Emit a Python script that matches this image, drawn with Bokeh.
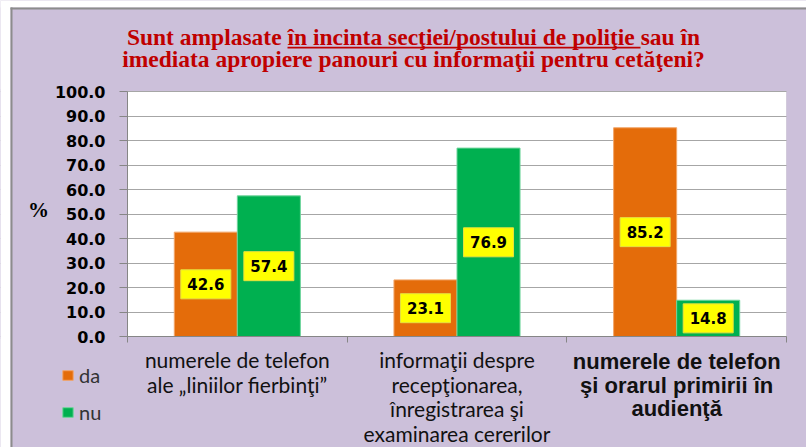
from bokeh.plotting import figure
from bokeh.models import (Range1d, FixedTicker, NumeralTickFormatter,
                          ColumnDataSource, LabelSet, Label, BoxAnnotation)
from bokeh.core.properties import value
from bokeh.embed import file_html
from bokeh.resources import INLINE

# ---- data ----
categories = [
    "numerele de telefon\nale \u201eliniilor fierbin\u0163i\u201d",
    "informa\u0163ii despre\nrecep\u0163ionarea,\n\u00eenregistrarea \u015fi\nexaminarea cererilor",
    "numerele de telefon\n\u015fi orarul primirii \u00een\naudien\u0163\u0103",
]
series_names = ["da", "nu"]
da = [42.6, 23.1, 85.2]
nu = [57.4, 76.9, 14.8]
y_ticks = [0, 10, 20, 30, 40, 50, 60, 70, 80, 90, 100]
title_line1 = "Sunt amplasate \u00een incinta sec\u0163iei/postului de poli\u0163ie sau \u00een"
title_line2 = "imediata apropiere panouri cu informa\u0163ii pentru cet\u0103\u0163eni?"
y_label = "%"

ORANGE = "#E46C0A"
GREEN = "#00B050"
LAVENDER = "#CCC0DA"
W, H = 806, 447
PL, PR, PT, PB = 127, 786, 91, 336   # plot area in canvas pixels

n = len(categories)
centers = [i + 0.5 for i in range(n)]
bw = 0.287
off = bw / 2

src = ColumnDataSource(dict(
    xc=centers, cat=categories, da=da, nu=nu,
    da_x=[c - off for c in centers], nu_x=[c + off for c in centers],
    da_mid=[v / 2 for v in da], nu_mid=[v / 2 for v in nu],
    da_lbl=[f"{v:.1f}" for v in da], nu_lbl=[f"{v:.1f}" for v in nu],
))

px_x = (PR - PL) / n
px_y = (PB - PT) / 100
p = figure(width=W, height=H,
           x_range=Range1d(-PL / px_x, n + (W - PR) / px_x),
           y_range=Range1d(-(H - PB) / px_y, 100 + PT / px_y),
           output_backend="svg", toolbar_location=None,
           min_border=0, min_border_left=0, min_border_right=0, min_border_top=0, min_border_bottom=0,
           background_fill_color=LAVENDER, border_fill_color=LAVENDER)
p.outline_line_color = None

# white plot area (below grid lines)
p.add_layout(BoxAnnotation(left=0, right=n, bottom=0, top=100, fill_color="white", fill_alpha=1,
                           line_color="#b8b8b8", line_width=1, level="image"))

# y axis at the plot-area edge
yax = p.yaxis[0]
yax.fixed_location = 0
yax.bounds = (0, 100)
yax.ticker = FixedTicker(ticks=y_ticks)
yax.formatter = NumeralTickFormatter(format="0.0")
yax.major_label_text_font = "DejaVu Sans"
yax.major_label_text_font_style = "bold"
yax.major_label_text_font_size = "16px"
yax.major_label_text_color = "black"
yax.major_tick_out = 8
yax.major_tick_in = 0
yax.minor_tick_line_color = None
yax.major_label_standoff = 14
yax.axis_line_color = "#868686"
yax.major_tick_line_color = "#868686"
p.ygrid.grid_line_color = "#a6a6a6"
p.xgrid.visible = False

# x axis: category boundaries
xax = p.xaxis[0]
xax.fixed_location = 0
xax.bounds = (0, n)
xax.ticker = FixedTicker(ticks=list(range(n + 1)))
xax.major_label_text_color = None
xax.major_tick_out = 6
xax.major_tick_in = 0
xax.minor_tick_line_color = None
xax.axis_line_color = "#868686"
xax.major_tick_line_color = "#868686"

# hide grid lines outside the plot area (drawn after the grid)
p.add_layout(BoxAnnotation(right=0, bottom=-1, top=101,
                           fill_color=LAVENDER, fill_alpha=1, line_color=None, level="underlay"))
p.add_layout(BoxAnnotation(left=n, bottom=-1, top=101, fill_color=LAVENDER, fill_alpha=1,
                           line_color=None, level="underlay"))

# white page outside the chart's border, and the border itself (left and top edges)
p.add_layout(BoxAnnotation(right=10, right_units="screen", fill_color="white", fill_alpha=1,
                           line_color=None, level="underlay"))
p.add_layout(BoxAnnotation(bottom=H - 7, bottom_units="screen", fill_color="white", fill_alpha=1,
                           line_color=None, level="underlay"))
p.add_layout(BoxAnnotation(left=10, right=12, top=H - 7, left_units="screen", right_units="screen",
                           top_units="screen", fill_color="#8c8c8c", fill_alpha=1, line_color=None,
                           level="underlay"))
p.add_layout(BoxAnnotation(left=10, bottom=H - 9, top=H - 7, left_units="screen",
                           bottom_units="screen", top_units="screen",
                           fill_color="#8c8c8c", fill_alpha=1, line_color=None, level="underlay"))

p.vbar(x="da_x", top="da", width=bw, source=src,
       fill_color=ORANGE, line_color="#F2A66A", legend_label=series_names[0])
p.vbar(x="nu_x", top="nu", width=bw, source=src,
       fill_color=GREEN, line_color="#6FD49C", legend_label=series_names[1])

for key in ("da", "nu"):
    p.rect(x=f"{key}_x", y=f"{key}_mid", width=50, height=29,
           width_units="screen", height_units="screen", source=src,
           fill_color="#FFFF00", line_color="#E6E040")
    p.text(x=f"{key}_x", y=f"{key}_mid", text=f"{key}_lbl", source=src,
           text_font=value("DejaVu Sans"), text_font_style="bold", text_font_size="15px",
           text_align="center", text_baseline="middle", text_color="black")

# category labels, one centred row per line
def line_rows(idx, first_center, step):
    xs, ys, ts = [], [], []
    for i in idx:
        for k, t in enumerate(categories[i].split("\n")):
            xs.append(centers[i])
            ys.append(H - (first_center + k * step))
            ts.append(t)
    return ColumnDataSource(dict(x=xs, y=ys, t=ts))

p.add_layout(LabelSet(x="x", y="y", y_units="screen", text="t", source=line_rows([0, 1], 359, 24.7),
                      text_font=value("Lato"), text_font_size="21px", text_color="#111111",
                      text_align="center", text_baseline="middle"))
p.add_layout(LabelSet(x="x", y="y", y_units="screen", text="t", source=line_rows([2], 361, 23.5),
                      text_font=value("Liberation Sans"), text_font_style="bold",
                      text_font_size="22px", text_color="#111111",
                      text_align="center", text_baseline="middle"))

# y label
p.add_layout(Label(x=38, y=H - 209, x_units="screen", y_units="screen", text=y_label,
                   text_font="Liberation Serif", text_font_style="bold", text_font_size="21px",
                   text_color="black", text_align="center", text_baseline="middle"))

# title (visual baselines at y=44 and y=66.7)
for txt, base in ((title_line1, 44), (title_line2, 66.7)):
    p.add_layout(Label(x=413, y=H - (base - 8), x_units="screen", y_units="screen", text=txt,
                       text_font="Liberation Serif", text_font_style="bold", text_font_size="23.5px",
                       text_color="#C00000", text_align="center", text_baseline="alphabetic"))
p.add_layout(BoxAnnotation(left=287, right=640, bottom=H - 48, top=H - 46.2,
                           left_units="screen", right_units="screen",
                           bottom_units="screen", top_units="screen",
                           fill_color="#C00000", fill_alpha=1, line_color=None))

# legend
lg = p.legend[0]
lg.location = (61, 23)
lg.background_fill_alpha = 0
lg.border_line_color = None
lg.padding = 0
lg.margin = 0
lg.glyph_width = 13
lg.glyph_height = 12
lg.label_standoff = 5
lg.spacing = 13
lg.label_text_font = "Lato"
lg.label_text_font_size = "20px"
lg.label_text_color = "#333333"

open("out.html", "w").write(file_html(p, INLINE))
